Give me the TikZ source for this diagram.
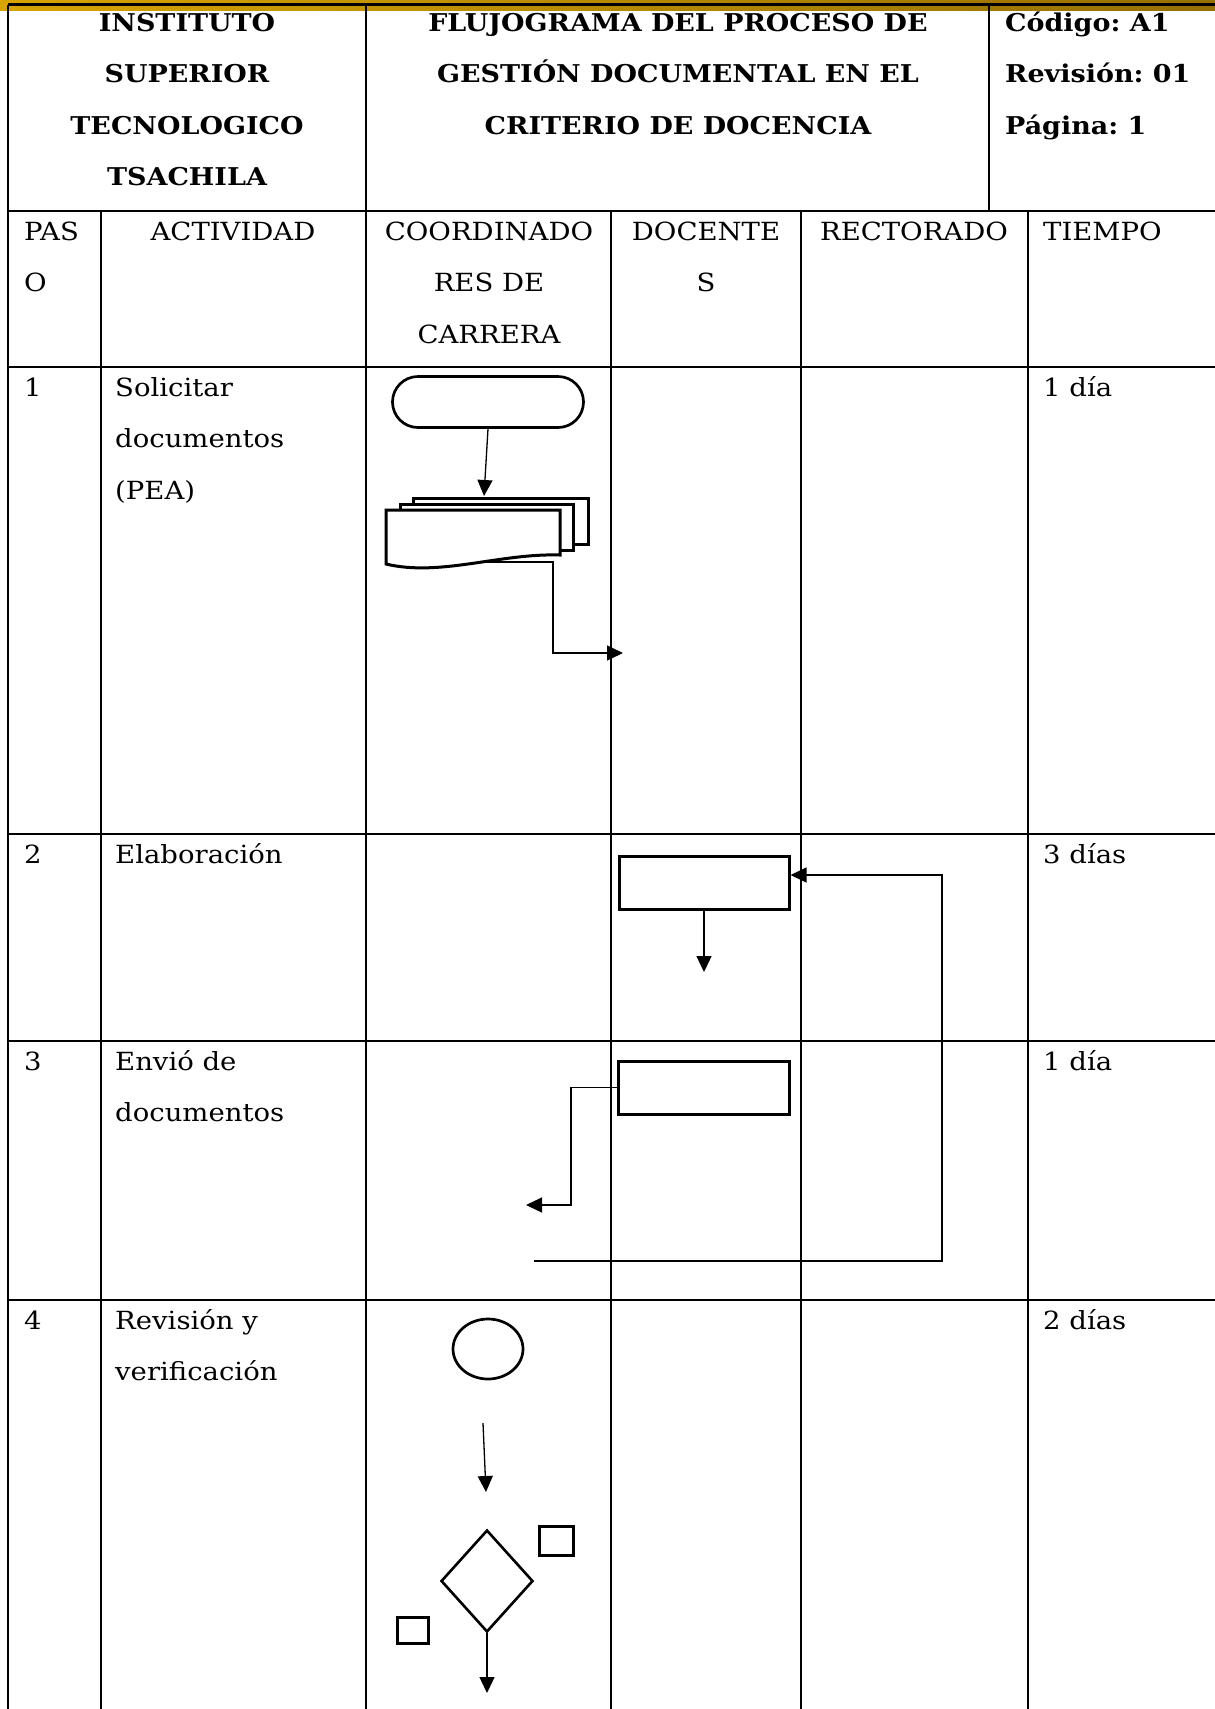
\documentclass[tikz,border=0pt]{standalone}
\usepackage{fontspec}
\setmainfont{DejaVu Serif}[FakeStretch=1.1]
\usetikzlibrary{arrows.meta,shapes.geometric,shapes.misc}
\definecolor{goldL}{RGB}{214,163,0}
\definecolor{goldR}{RGB}{150,112,0}
\frenchspacing
\begin{document}
\begin{tikzpicture}[x=1pt,y=-1pt,
  txt/.style={inner sep=0pt,font=\fontsize{25pt}{30pt}\selectfont},
  btxt/.style={txt,font=\fontsize{24.5pt}{30pt}\selectfont\bfseries},
  tline/.style={line width=2.6pt},
  shp/.style={draw,line width=3pt,fill=white,inner sep=0pt},
  conn/.style={line width=1.3pt,-{Triangle[length=16pt,width=15pt]}},
  plain/.style={line width=1.3pt}]
\useasboundingbox (0,0) rectangle (1215,1709);
% gold bar
\shade[left color=goldL,right color=goldR] (0,0) rectangle (1215,10);
% table lines
\draw[tline] (8,4.5) -- (1215,4.5);
\draw[tline] (8,4.5) -- (8,1709);
\draw[tline] (366,4.5) -- (366,1709);
\draw[tline] (989,4.5) -- (989,211);
\foreach \xx in {101,611,801,1028} {\draw[tline] (\xx,211) -- (\xx,1709);}
\foreach \yy in {211,367,834,1041,1300} {\draw[tline] (8,\yy) -- (1215,\yy);}
% header texts
\node[btxt,anchor=base] (h1a) at (187,31) {INSTITUTO};
\node[btxt,anchor=base] (h1b) at (187,82) {SUPERIOR};
\node[btxt,anchor=base] (h1c) at (187,134) {TECNOLOGICO};
\node[btxt,anchor=base] (h1d) at (187,185) {TSACHILA};
\node[btxt,anchor=base] (h2a) at (678,31) {FLUJOGRAMA DEL PROCESO DE};
\node[btxt,anchor=base] (h2b) at (678,82) {GESTIÓN DOCUMENTAL EN EL};
\node[btxt,anchor=base] (h2c) at (678,134) {CRITERIO DE DOCENCIA};
\node[btxt,anchor=base west] (h3a) at (1005,31) {Código: A1};
\node[btxt,anchor=base west] (h3b) at (1005,82) {Revisión: 01};
\node[btxt,anchor=base west] (h3c) at (1005,134) {Página: 1};
% column headers
\node[txt,anchor=base west] (c1a) at (24,240) {PAS};
\node[txt,anchor=base west] (c1b) at (24,291) {O};
\node[txt,anchor=base] (c2a) at (233,240) {ACTIVIDAD};
\node[txt,anchor=base] (c3a) at (489,240) {COORDINADO};
\node[txt,anchor=base] (c3b) at (489,291) {RES DE};
\node[txt,anchor=base] (c3c) at (489,343) {CARRERA};
\node[txt,anchor=base] (c4a) at (706,240) {DOCENTE};
\node[txt,anchor=base] (c4b) at (706,291) {S};
\node[txt,anchor=base] (c5a) at (914,240) {RECTORADO};
\node[txt,anchor=base west] (c6a) at (1043,240) {TIEMPO};
% row 1
\node[txt,anchor=base west] (r1n) at (24,396) {1};
\node[txt,anchor=base west] (r1a) at (115,396) {Solicitar};
\node[txt,anchor=base west] (r1b) at (115,447) {documentos};
\node[txt,anchor=base west] (r1c) at (115,499) {(PEA)};
\node[txt,anchor=base west] (r1t) at (1043,396) {1 día};
% row 2
\node[txt,anchor=base west] (r2n) at (24,863) {2};
\node[txt,anchor=base west] (r2a) at (115,863) {Elaboración};
\node[txt,anchor=base west] (r2t) at (1043,863) {3 días};
% row 3
\node[txt,anchor=base west] (r3n) at (24,1070) {3};
\node[txt,anchor=base west] (r3a) at (115,1070) {Envió de};
\node[txt,anchor=base west] (r3b) at (115,1121) {documentos};
\node[txt,anchor=base west] (r3t) at (1043,1070) {1 día};
% row 4
\node[txt,anchor=base west] (r4n) at (24,1329) {4};
\node[txt,anchor=base west] (r4a) at (115,1329) {Revisión y};
\node[txt,anchor=base west] (r4b) at (115,1380) {verificación};
\node[txt,anchor=base west] (r4t) at (1043,1329) {2 días};
% shapes
\node[shp,line width=2.7pt,rounded rectangle,minimum width=191pt,minimum height=51pt] (term) at (488,402) {};
% multi-document
\draw[line width=3pt,fill=white] (413,498) rectangle (588,544);
\draw[line width=3pt,fill=white] (400,504) rectangle (573,550);
\draw[line width=3pt,fill=white] (386,510) -- (560,510) -- (560,555)
   .. controls (500,553) and (440,577) .. (386,564) -- cycle;
\coordinate (docout) at (484,562);
\coordinate (a1end) at (484,496);
\node[shp,rectangle,minimum width=170pt,minimum height=53pt] (rect2) at (704,882.5) {};
\node[shp,rectangle,minimum width=171pt,minimum height=53pt] (rect3) at (703.5,1087.5) {};
\node[shp,line width=2.7pt,ellipse,minimum width=70pt,minimum height=60pt] (oval) at (488,1349) {};
\node[shp,line width=2.6pt,diamond,minimum width=92pt,minimum height=102pt] (dia) at (487,1581) {};
\node[shp,rectangle,minimum width=34pt,minimum height=29pt] (sq1) at (556,1540.5) {};
\node[shp,rectangle,minimum width=31pt,minimum height=26pt] (sq2) at (412.5,1630) {};
% connectors
\draw[conn] (term.south) -- (a1end);
\coordinate (k2a) at (553,562);
\coordinate (k2b) at (623,653);
\draw[conn] (docout) -- (k2a) |- (k2b);
\coordinate (a3end) at (704,972);
\draw[conn] (rect2.south) -- (a3end);
\coordinate (l1) at (534,1261);
\coordinate (l2) at (942,875);
\draw[conn] (l1) -| (l2) -- (rect2.east |- l2);
\coordinate (k5a) at (571,1205);
\coordinate (k5b) at (526,1205);
\draw[conn] (rect3.west) -| (k5a) -- (k5b);
\coordinate (a6s) at (483,1423);
\coordinate (a6e) at (486,1492);
\draw[conn] (a6s) -- (a6e);
\coordinate (a7e) at (487,1693);
\draw[conn] (dia.south) -- (a7e);
\end{tikzpicture}
\end{document}
